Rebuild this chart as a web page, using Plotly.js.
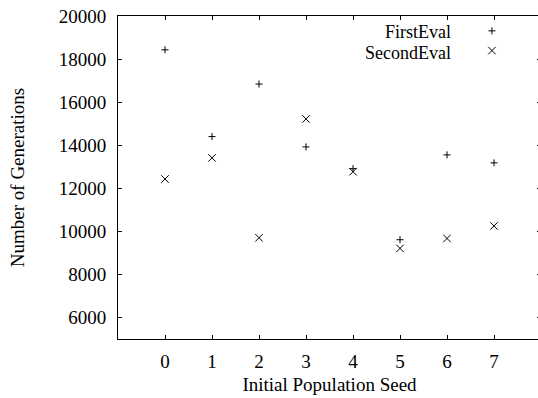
<!DOCTYPE html>
<html>
<head>
<meta charset="utf-8">
<script src="https://cdn.plot.ly/plotly-3.0.1.min.js"></script>
<style>
html,body{margin:0;padding:0;overflow:hidden;background:#fff;}
#chart{width:560px;height:398px;}
</style>
</head>
<body>
<div id="chart"></div>
<script>
const seeds = [0, 1, 2, 3, 4, 5, 6, 7];
const firstEval = [18430, 14400, 16840, 13920, 12910, 9610, 13550, 13180];
const secondEval = [12430, 13410, 9700, 15220, 12770, 9210, 9670, 10250];
const seriesNames = ['FirstEval', 'SecondEval'];
const yTicks = [6000, 8000, 10000, 12000, 14000, 16000, 18000, 20000];

const FONT = 'Liberation Serif, Times New Roman, serif';

const traces = [
  {x: seeds, y: firstEval, name: seriesNames[0], type: 'scatter', mode: 'markers',
   marker: {symbol: 'cross-thin', size: 5, color: '#000', line: {width: 1, color: '#000'}}},
  {x: seeds, y: secondEval, name: seriesNames[1], type: 'scatter', mode: 'markers',
   marker: {symbol: 'x-thin', size: 7.5, color: '#000', line: {width: 1, color: '#000'}}}
];

// legend key glyphs (gnuplot style: text then symbol)
const keyX = 0.884, keyY = [0.954, 0.893];
const shapes = [
  {type: 'line', xref: 'paper', yref: 'paper', xsizemode: 'pixel', ysizemode: 'pixel',
   xanchor: keyX, yanchor: keyY[0], x0: -3.5, x1: 3.5, y0: 0, y1: 0, line: {color: '#000', width: 1}},
  {type: 'line', xref: 'paper', yref: 'paper', xsizemode: 'pixel', ysizemode: 'pixel',
   xanchor: keyX, yanchor: keyY[0], x0: 0, x1: 0, y0: -3.5, y1: 3.5, line: {color: '#000', width: 1}},
  {type: 'line', xref: 'paper', yref: 'paper', xsizemode: 'pixel', ysizemode: 'pixel',
   xanchor: keyX, yanchor: keyY[1], x0: -3.75, x1: 3.75, y0: -3.75, y1: 3.75, line: {color: '#000', width: 1}},
  {type: 'line', xref: 'paper', yref: 'paper', xsizemode: 'pixel', ysizemode: 'pixel',
   xanchor: keyX, yanchor: keyY[1], x0: -3.75, x1: 3.75, y0: 3.75, y1: -3.75, line: {color: '#000', width: 1}}
];
const annotations = [
  {xref: 'paper', yref: 'paper', x: 0.791, y: 0.950, xanchor: 'right', yanchor: 'middle',
   text: seriesNames[0], showarrow: false, font: {family: FONT, size: 18, color: '#000'}},
  {xref: 'paper', yref: 'paper', x: 0.791, y: 0.886, xanchor: 'right', yanchor: 'middle',
   text: seriesNames[1], showarrow: false, font: {family: FONT, size: 18, color: '#000'}}
];

const axisCommon = {
  showgrid: false, zeroline: false, showline: true, linecolor: '#000', linewidth: 1,
  ticks: 'inside', ticklen: 4, tickwidth: 1, tickcolor: '#000', mirror: 'ticks',
  tickfont: {family: FONT, size: 19, color: '#000'}
};

const layout = {
  width: 560, height: 398,
  margin: {l: 118, r: 19, t: 16, b: 59},
  paper_bgcolor: '#fff', plot_bgcolor: '#fff',
  showlegend: false,
  font: {family: FONT, size: 19, color: '#000'},
  xaxis: Object.assign({}, axisCommon, {
    range: [-1, 8], tickvals: seeds, ticktext: seeds.map(String),
    ticklabelstandoff: 5,
    title: {text: 'Initial Population Seed', font: {family: FONT, size: 19, color: '#000'}, standoff: 6}
  }),
  yaxis: Object.assign({}, axisCommon, {
    range: [5000, 20000], tickvals: yTicks, ticktext: yTicks.map(String),
    ticklabelstandoff: 7,
    title: {text: 'Number of Generations', font: {family: FONT, size: 19, color: '#000'}, standoff: 29}
  }),
  shapes: shapes,
  annotations: annotations
};

Plotly.newPlot('chart', traces, layout, {displayModeBar: false, staticPlot: true});
</script>
</body>
</html>
